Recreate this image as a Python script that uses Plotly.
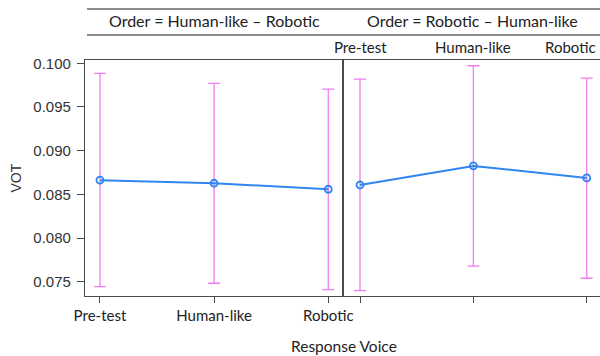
import plotly.graph_objects as go

# Response-voice conditions and VOT estimates per presentation order
voices = ["Pre-test", "Human-like", "Robotic"]
orders = ["Order = Human-like \u2013 Robotic", "Order = Robotic \u2013 Human-like"]

vot_hr = [0.08662, 0.08627, 0.08558]
upper_hr = [0.09885, 0.09770, 0.09705]
lower_hr = [0.07443, 0.07482, 0.07408]

vot_rh = [0.08607, 0.08825, 0.08688]
upper_rh = [0.09820, 0.09972, 0.09830]
lower_rh = [0.07397, 0.07677, 0.07539]

W, H = 600, 356
LINE_BLUE = "#2f86f0"
ERR_PINK = "#f07cf0"
AXIS_GREY = "#4a4a4a"
TEXT = "#222222"


def px_x(v):
    return v / W


def px_y(v):
    return 1 - v / H


fig = go.Figure()

for xa, ya, vals, up, lo in [("x", "y", vot_hr, upper_hr, lower_hr),
                             ("x2", "y2", vot_rh, upper_rh, lower_rh)]:
    fig.add_trace(go.Scatter(
        x=voices, y=vals, xaxis=xa, yaxis=ya,
        mode="lines+markers",
        line=dict(color=LINE_BLUE, width=2),
        marker=dict(symbol="circle-open", size=7, color=LINE_BLUE,
                    line=dict(width=1.8, color=LINE_BLUE)),
        error_y=dict(type="data", symmetric=False,
                     array=[u - v for u, v in zip(up, vals)],
                     arrayminus=[v - l for l, v in zip(lo, vals)],
                     color=ERR_PINK, thickness=1.3, width=6),
        showlegend=False, hoverinfo="skip",
    ))

y_range = [0.07336, 0.10038]
y_dom = [px_y(296), px_y(60)]
cat_font = dict(family="Lato, 'Open Sans', sans-serif", size=15, color=TEXT)
num_font = dict(family="Liberation Sans, Arial, sans-serif", size=15, color="#333333")

fig.update_layout(
    template="none",
    width=W, height=H,
    margin=dict(l=0, r=0, t=0, b=0, pad=0),
    paper_bgcolor="white", plot_bgcolor="white",
    xaxis=dict(domain=[px_x(85), px_x(343)], type="category",
               categoryarray=voices, range=[-0.131, 2.129],
               showline=True, linecolor=AXIS_GREY, linewidth=1.3, mirror=True,
               ticks="outside", ticklen=6, tickcolor=AXIS_GREY, tickwidth=1.2,
               showgrid=False, zeroline=False, tickfont=cat_font,
               automargin=False, anchor="y"),
    yaxis=dict(domain=y_dom, range=y_range,
               tickvals=[0.075, 0.080, 0.085, 0.090, 0.095, 0.100],
               tickformat=".3f",
               showline=True, linecolor=AXIS_GREY, linewidth=1.3, mirror=True,
               ticks="outside", ticklen=7, tickcolor=AXIS_GREY, tickwidth=1.2,
               ticklabelstandoff=3,
               showgrid=False, zeroline=False, tickfont=num_font,
               automargin=False, anchor="x"),
    xaxis2=dict(domain=[px_x(343), 1.0], type="category",
                categoryarray=voices, range=[-0.15, 2.117],
                showline=True, linecolor=AXIS_GREY, linewidth=1.3, mirror=True,
                ticks="outside", ticklen=6, tickcolor=AXIS_GREY, tickwidth=1.2,
                showticklabels=False,
                showgrid=False, zeroline=False, automargin=False, anchor="y2"),
    yaxis2=dict(domain=y_dom, range=y_range, matches="y",
                showline=True, linecolor=AXIS_GREY, linewidth=1.3, mirror=False,
                ticks="", showticklabels=False,
                showgrid=False, zeroline=False, automargin=False, anchor="x2"),
)

# Strip header rules
shapes = []
for yy in (9, 35):
    shapes.append(dict(type="line", xref="paper", yref="paper",
                       x0=px_x(87), x1=1.0, y0=px_y(yy), y1=px_y(yy),
                       line=dict(color="#666666", width=1.4)))
fig.update_layout(shapes=shapes)

annotations = []
# Strip titles
for label, cx in zip(orders, [(85 + 343) / 2, (343 + 602) / 2]):
    annotations.append(dict(text=label, xref="paper", yref="paper",
                            x=px_x(cx), y=px_y(21), showarrow=False,
                            xanchor="center", yanchor="middle",
                            font=dict(family="Lato, 'Open Sans', sans-serif",
                                      size=16, color=TEXT)))
# Top tick labels for the second panel; the last one is pulled inside the edge
for i, v in enumerate(voices):
    annotations.append(dict(text=v, xref="x2", yref="paper",
                            x=v, y=px_y(47), showarrow=False,
                            xanchor="center", yanchor="middle",
                            xshift=-16 if i == len(voices) - 1 else 0,
                            font=cat_font))
# Axis titles
annotations.append(dict(text="Response Voice", xref="paper", yref="paper",
                        x=px_x(344), y=px_y(346), showarrow=False,
                        xanchor="center", yanchor="middle",
                        font=dict(family="Lato, 'Open Sans', sans-serif",
                                  size=15.5, color=TEXT)))
annotations.append(dict(text="VOT", xref="paper", yref="paper",
                        x=px_x(15.5), y=px_y(178), showarrow=False, textangle=-90,
                        xanchor="center", yanchor="middle",
                        font=dict(family="Liberation Sans, Arial, sans-serif",
                                  size=14, color="#333333")))
fig.update_layout(annotations=annotations)

fig.write_html("out.html")
